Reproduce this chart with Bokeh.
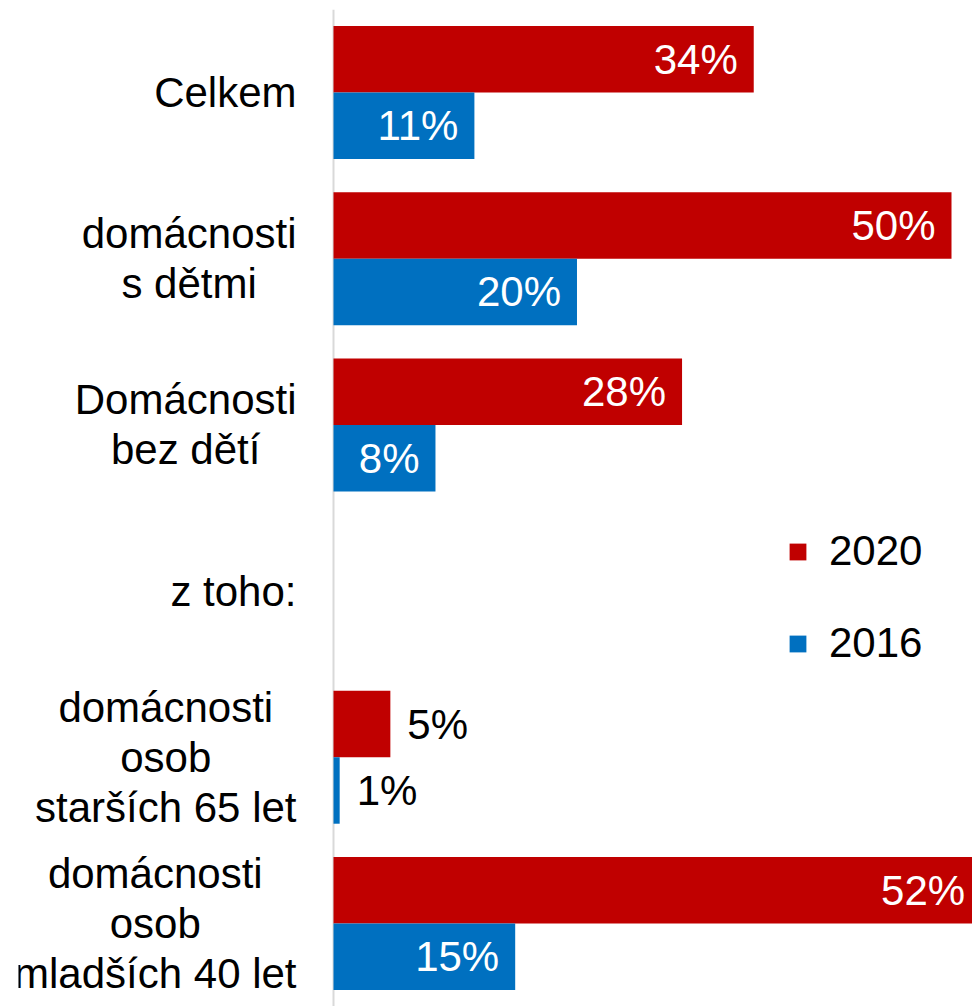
from bokeh.plotting import figure
from bokeh.models import ColumnDataSource, FactorRange, Range1d, Span, Legend, LegendItem
from bokeh.transform import dodge
from bokeh.core.properties import value
from bokeh.embed import file_html
from bokeh.resources import INLINE

# ---------------- data ----------------
categories = [
    "Celkem",
    "domácnosti\ns dětmi",
    "Domácnosti\nbez dětí",
    "z toho:",
    "domácnosti\nosob\nstarších 65 let",
    "domácnosti\nosob\nmladších 40 let",
]
series_names = ["2020", "2016"]
values_2020 = [34.0, 50.0, 28.2, None, 4.6, 52.4]
values_2016 = [11.4, 19.7, 8.25, None, 0.5, 14.7]
labels_2020 = ["34%", "50%", "28%", "", "5%", "52%"]
labels_2016 = ["11%", "20%", "8%", "", "1%", "15%"]

# ---------------- style / layout ----------------
COLORS = ["#C00000", "#0070C0"]
FONT_NAME = "Liberation Sans"
FONT = value(FONT_NAME)
FS_PX = 42
FS = f"{FS_PX}px"
W_FIG, H_FIG = 972, 1006
LEFT_BORDER = 18
TOP_BORDER = 9
ZERO_PX = 315          # frame pixel of the zero line
PX_PER_PCT = 12.36
GAP_PX = 37            # gap between category label block and axis line
LINE_PX = 50           # line height of category labels
BAR_H = 0.4

frame_w = W_FIG - LEFT_BORDER
frame_h = H_FIG - TOP_BORDER
x_start = -ZERO_PX / PX_PER_PCT
x_end = (frame_w - ZERO_PX) / PX_PER_PCT

# Arial / Liberation Sans advance widths (units per 1000 em)
ARIAL_W = {' ': 278, 'C': 722, 'D': 722, 'a': 556, 'á': 556, 'b': 556, 'c': 500,
           'd': 556, 'e': 556, 'ě': 556, 'h': 556, 'i': 222, 'í': 278, 'k': 500,
           'l': 222, 'm': 833, 'n': 556, 'o': 556, 'r': 333, 's': 500, 'š': 500,
           't': 278, 'z': 500, ':': 278, '0': 556, '4': 556, '5': 556, '6': 556}


def text_width(s):
    return sum(ARIAL_W.get(ch, 556) for ch in s) * FS_PX / 1000.0


p = figure(width=W_FIG, height=H_FIG, output_backend="svg", toolbar_location=None,
           x_range=Range1d(x_start, x_end),
           y_range=FactorRange(factors=list(reversed(categories))),
           x_axis_location=None, y_axis_location=None,
           min_border_left=LEFT_BORDER, min_border_right=0,
           min_border_top=TOP_BORDER, min_border_bottom=0)
p.outline_line_color = None
p.grid.visible = False
p.background_fill_color = "white"
p.border_fill_color = "white"

p.add_layout(Span(location=0, dimension="height", line_color="#D9D9D9",
                  line_width=2, level="underlay"))

renderers = []
for s, (vals, labs, dy) in enumerate([(values_2020, labels_2020, BAR_H / 2),
                                      (values_2016, labels_2016, -BAR_H / 2)]):
    rows = [i for i, v in enumerate(vals) if v is not None]
    src = ColumnDataSource(dict(cat=[categories[i] for i in rows],
                                val=[vals[i] for i in rows],
                                lab=[labs[i] for i in rows]))
    r = p.hbar(y=dodge("cat", dy, range=p.y_range), left=0, right="val",
               height=BAR_H, fill_color=COLORS[s], line_color=None, source=src)
    renderers.append(r)

    inside = [i for i in rows if vals[i] >= 6]
    outside = [i for i in rows if vals[i] < 6]
    src_in = ColumnDataSource(dict(cat=[categories[i] for i in inside],
                                   val=[vals[i] for i in inside],
                                   lab=[labs[i] for i in inside]))
    src_out = ColumnDataSource(dict(cat=[categories[i] for i in outside],
                                    val=[vals[i] for i in outside],
                                    lab=[labs[i] for i in outside]))
    p.text(x="val", y=dodge("cat", dy, range=p.y_range), text="lab", source=src_in,
           x_offset=-16, text_align="right", text_baseline="middle",
           text_color="white", text_font=FONT, text_font_size=FS)
    p.text(x="val", y=dodge("cat", dy, range=p.y_range), text="lab", source=src_out,
           x_offset=17, text_align="left", text_baseline="middle",
           text_color="black", text_font=FONT, text_font_size=FS)

# category labels: block right-aligned at the axis, lines centred
band_px = frame_h / len(categories)
line_units = LINE_PX / band_px
groups = {}
for cat in categories:
    lines = cat.split("\n")
    n = len(lines)
    block_w = max(text_width(l) for l in lines)
    for i, line in enumerate(lines):
        off = round(((n - 1) / 2 - i) * line_units, 6)
        g = groups.setdefault(off, dict(cat=[], txt=[], xo=[]))
        g["cat"].append(cat)
        g["txt"].append(line)
        g["xo"].append(-(GAP_PX + block_w / 2))
for off, g in groups.items():
    p.text(x=0, y=dodge("cat", off, range=p.y_range), text="txt", x_offset="xo",
           source=ColumnDataSource(g), text_align="center", text_baseline="middle",
           text_color="black", text_font=FONT, text_font_size=FS)

legend = Legend(items=[LegendItem(label=series_names[0], renderers=[renderers[0]]),
                       LegendItem(label=series_names[1], renderers=[renderers[1]])],
                location=(769, 338), orientation="vertical",
                glyph_width=21, glyph_height=21, label_standoff=21,
                label_height=50, spacing=42, padding=0, margin=0,
                border_line_color=None, background_fill_alpha=0,
                label_text_font=FONT_NAME, label_text_font_size=FS,
                label_text_color="black", label_text_baseline="middle")
p.add_layout(legend)

open("out.html", "w").write(file_html(p, INLINE))
